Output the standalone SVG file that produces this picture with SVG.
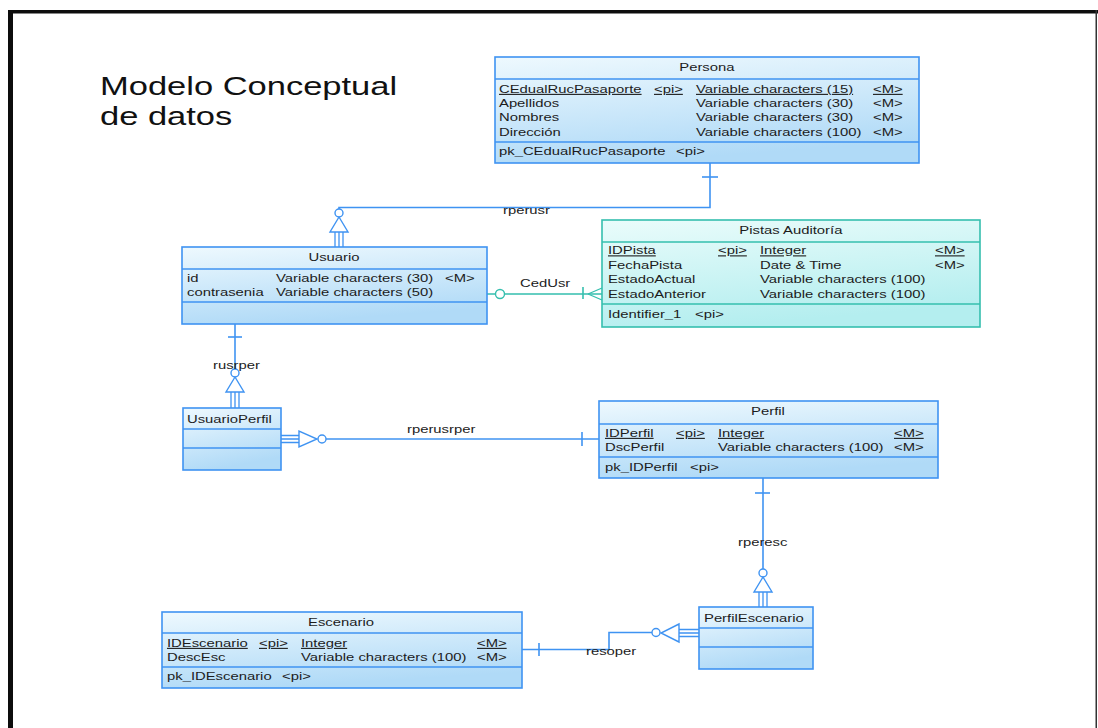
<svg xmlns="http://www.w3.org/2000/svg" width="1098" height="728" viewBox="0 0 1098 728">
  <defs>
    <linearGradient id="gBlue" x1="0" y1="0" x2="0.3" y2="1">
      <stop offset="0" stop-color="#eef9fe"/>
      <stop offset="1" stop-color="#b0daf7"/>
    </linearGradient>
    <linearGradient id="gTeal" x1="0" y1="0" x2="0.3" y2="1">
      <stop offset="0" stop-color="#eafcfb"/>
      <stop offset="1" stop-color="#b4eeef"/>
    </linearGradient>
  </defs>
  <style>
    text { font-family: "Liberation Sans", Arial, sans-serif; font-size: 11px; fill: #1c1c1c; }
    .t, .u, .lbl { transform-box: fill-box; transform-origin: 0 50%; transform: scaleX(1.35); }
    .c { transform-box: fill-box; transform-origin: 50% 50%; transform: scaleX(1.35); text-anchor: middle; }
    .u { text-decoration: underline; }
    .title { font-size: 25px; fill: #111; transform-box: fill-box; transform-origin: 0 50%; transform: scaleX(1.38); }
    .box { fill: url(#gBlue); stroke: #3f93f2; stroke-width: 1.6; }
    .boxT { fill: url(#gTeal); stroke: #35bfae; stroke-width: 1.6; }
    .sep { stroke: #3f93f2; stroke-width: 1.4; fill: none; }
    .sepT { stroke: #35bfae; stroke-width: 1.4; fill: none; }
    .ln { stroke: #3f93f2; stroke-width: 1.6; fill: none; }
    .lnT { stroke: #35bfae; stroke-width: 1.6; fill: none; }
    .sym { stroke: #3f93f2; stroke-width: 1.4; fill: #ffffff; }
    .symT { stroke: #35bfae; stroke-width: 1.4; fill: #ffffff; }
  </style>

  <rect x="0" y="0" width="1098" height="728" fill="#ffffff"/>

  <!-- page frame -->
  <g id="frame">
    <rect x="8" y="10" width="5" height="718" fill="#0d0d0d"/>
    <rect x="8" y="10" width="1090" height="3.5" fill="#0d0d0d"/>
    <rect x="1095.5" y="10" width="1.5" height="718" fill="#333"/>
  </g>

  <g id="heading">
    <text class="title" x="100" y="95">Modelo Conceptual</text>
    <text class="title" x="100" y="125">de datos</text>
  </g>

  <!-- relationships -->
  <g id="connectors">
    <!-- rperusr: Persona - Usuario -->
    <path class="ln" d="M710 163 V207.5 H339 V209"/>
    <line class="ln" x1="702" y1="177" x2="718" y2="177"/>
    <circle class="sym" cx="339" cy="213" r="4"/>
    <path class="sym" d="M339 217 L330 232 H348 Z"/>
    <path class="ln" d="M335 232 V247 M339 232 V247 M343 232 V247" style="stroke-width:1.3"/>
    <text class="lbl" x="503" y="214">rperusr</text>

    <!-- CedUsr: Usuario - Pistas Auditoría -->
    <path class="lnT" d="M487 294 H495 M505 294 H602"/>
    <circle class="symT" cx="500" cy="294" r="4.5"/>
    <line class="lnT" x1="583" y1="287" x2="583" y2="299"/>
    <path class="lnT" d="M588 294 L602 288 M588 294 L602 300" style="stroke-width:1.3"/>
    <text class="lbl" x="520" y="287">CedUsr</text>

    <!-- rusrper: Usuario - UsuarioPerfil -->
    <path class="ln" d="M235 324 V369"/>
    <line class="ln" x1="228" y1="337" x2="242" y2="337"/>
    <circle class="sym" cx="235" cy="373" r="4"/>
    <path class="sym" d="M235 377 L226 392 H244 Z"/>
    <path class="ln" d="M231 392 V408 M235 392 V408 M239 392 V408" style="stroke-width:1.3"/>
    <text class="lbl" x="213" y="369">rusrper</text>

    <!-- rperusrper: UsuarioPerfil - Perfil -->
    <path class="ln" d="M281 435.5 H299 M281 439 H299 M281 442.5 H299" style="stroke-width:1.3"/>
    <path class="sym" d="M299 431 V447 L317 439 Z"/>
    <circle class="sym" cx="322" cy="439" r="4"/>
    <path class="ln" d="M326 439 H600"/>
    <line class="ln" x1="582" y1="432" x2="582" y2="446"/>
    <text class="lbl" x="407" y="433">rperusrper</text>

    <!-- rperesc: Perfil - PerfilEscenario -->
    <path class="ln" d="M763 478 V569"/>
    <line class="ln" x1="755" y1="493" x2="770" y2="493"/>
    <circle class="sym" cx="763" cy="573" r="4"/>
    <path class="sym" d="M763 577 L754 592 H772 Z"/>
    <path class="ln" d="M759 592 V607 M763 592 V607 M767 592 V607" style="stroke-width:1.3"/>
    <text class="lbl" x="738" y="546">rperesc</text>

    <!-- resoper: Escenario - PerfilEscenario -->
    <path class="ln" d="M699 629.5 H679 M699 633 H679 M699 636.5 H679" style="stroke-width:1.3"/>
    <path class="sym" d="M679 624 V642 L661 633 Z"/>
    <circle class="sym" cx="656" cy="632.5" r="4"/>
    <path class="ln" d="M652 632.5 H609 V649.5 H522"/>
    <line class="ln" x1="539" y1="643" x2="539" y2="656"/>
    <text class="lbl" x="586" y="655">resoper</text>
  </g>

  <!-- entities -->
  <g id="persona">
    <rect class="box" x="495" y="57" width="424" height="106"/>
    <line class="sep" x1="495" y1="79" x2="919" y2="79"/>
    <line class="sep" x1="495" y1="142" x2="919" y2="142"/>
    <text class="c" x="707" y="71">Persona</text>
    <text class="u" x="499" y="93">CEdualRucPasaporte</text>
    <text class="u" x="654" y="93">&lt;pi&gt;</text>
    <text class="u" x="696" y="93">Variable characters (15)</text>
    <text class="u" x="873" y="93">&lt;M&gt;</text>
    <text class="t" x="499" y="107">Apellidos</text>
    <text class="t" x="696" y="107">Variable characters (30)</text>
    <text class="t" x="873" y="107">&lt;M&gt;</text>
    <text class="t" x="499" y="121.5">Nombres</text>
    <text class="t" x="696" y="121.5">Variable characters (30)</text>
    <text class="t" x="873" y="121.5">&lt;M&gt;</text>
    <text class="t" x="499" y="136">Dirección</text>
    <text class="t" x="696" y="136">Variable characters (100)</text>
    <text class="t" x="873" y="136">&lt;M&gt;</text>
    <text class="t" x="499" y="155">pk_CEdualRucPasaporte</text>
    <text class="t" x="676" y="155">&lt;pi&gt;</text>
  </g>

  <g id="usuario">
    <rect class="box" x="182" y="247" width="305" height="77"/>
    <line class="sep" x1="182" y1="269" x2="487" y2="269"/>
    <line class="sep" x1="182" y1="302" x2="487" y2="302"/>
    <text class="c" x="334" y="261">Usuario</text>
    <text class="t" x="187" y="282">id</text>
    <text class="t" x="276" y="282">Variable characters (30)</text>
    <text class="t" x="445" y="282">&lt;M&gt;</text>
    <text class="t" x="187" y="296">contrasenia</text>
    <text class="t" x="276" y="296">Variable characters (50)</text>
  </g>

  <g id="pistas-auditoria">
    <rect class="boxT" x="602" y="220" width="378" height="107"/>
    <line class="sepT" x1="602" y1="242" x2="980" y2="242"/>
    <line class="sepT" x1="602" y1="304" x2="980" y2="304"/>
    <text class="c" x="791" y="234">Pistas Auditoría</text>
    <text class="u" x="608" y="254.5">IDPista</text>
    <text class="u" x="718" y="254.5">&lt;pi&gt;</text>
    <text class="u" x="760" y="254.5">Integer</text>
    <text class="u" x="935" y="254.5">&lt;M&gt;</text>
    <text class="t" x="608" y="269">FechaPista</text>
    <text class="t" x="760" y="269">Date &amp; Time</text>
    <text class="t" x="935" y="269">&lt;M&gt;</text>
    <text class="t" x="608" y="283.5">EstadoActual</text>
    <text class="t" x="760" y="283.5">Variable characters (100)</text>
    <text class="t" x="608" y="298">EstadoAnterior</text>
    <text class="t" x="760" y="298">Variable characters (100)</text>
    <text class="t" x="608" y="318">Identifier_1</text>
    <text class="t" x="695" y="318">&lt;pi&gt;</text>
  </g>

  <g id="usuario-perfil">
    <rect class="box" x="183" y="408" width="98" height="62"/>
    <line class="sep" x1="183" y1="429" x2="281" y2="429"/>
    <line class="sep" x1="183" y1="448" x2="281" y2="448"/>
    <text class="t" x="187" y="423">UsuarioPerfil</text>
  </g>

  <g id="perfil">
    <rect class="box" x="599" y="401" width="339" height="77"/>
    <line class="sep" x1="599" y1="424" x2="938" y2="424"/>
    <line class="sep" x1="599" y1="457" x2="938" y2="457"/>
    <text class="c" x="768" y="415">Perfil</text>
    <text class="u" x="605" y="437">IDPerfil</text>
    <text class="u" x="676" y="437">&lt;pi&gt;</text>
    <text class="u" x="718" y="437">Integer</text>
    <text class="u" x="894" y="437">&lt;M&gt;</text>
    <text class="t" x="605" y="451">DscPerfil</text>
    <text class="t" x="718" y="451">Variable characters (100)</text>
    <text class="t" x="894" y="451">&lt;M&gt;</text>
    <text class="t" x="605" y="471">pk_IDPerfil</text>
    <text class="t" x="690" y="471">&lt;pi&gt;</text>
  </g>

  <g id="perfil-escenario">
    <rect class="box" x="699" y="607" width="114" height="62"/>
    <line class="sep" x1="699" y1="628" x2="813" y2="628"/>
    <line class="sep" x1="699" y1="647" x2="813" y2="647"/>
    <text class="t" x="704" y="622">PerfilEscenario</text>
  </g>

  <g id="escenario">
    <rect class="box" x="162" y="612" width="360" height="76"/>
    <line class="sep" x1="162" y1="633" x2="522" y2="633"/>
    <line class="sep" x1="162" y1="667" x2="522" y2="667"/>
    <text class="c" x="341" y="626">Escenario</text>
    <text class="u" x="167" y="647">IDEscenario</text>
    <text class="u" x="259" y="647">&lt;pi&gt;</text>
    <text class="u" x="301" y="647">Integer</text>
    <text class="u" x="477" y="647">&lt;M&gt;</text>
    <text class="t" x="167" y="661">DescEsc</text>
    <text class="t" x="301" y="661">Variable characters (100)</text>
    <text class="t" x="477" y="661">&lt;M&gt;</text>
    <text class="t" x="167" y="680">pk_IDEscenario</text>
    <text class="t" x="282" y="680">&lt;pi&gt;</text>
  </g>
</svg>
